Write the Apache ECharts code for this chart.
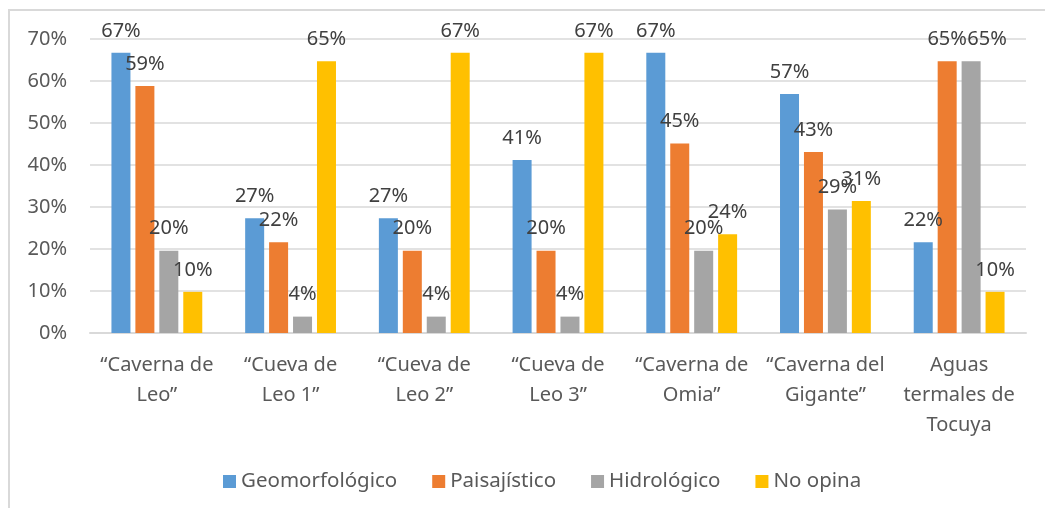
<!DOCTYPE html>
<html>
<head>
<meta charset="utf-8">
<title>Valoración de sitios</title>
<script src="https://cdn.jsdelivr.net/npm/echarts@6/dist/echarts.min.js"></script>
<style>
  html, body { margin: 0; padding: 0; background: #fff; }
  #chart { width: 1045px; height: 508px; }
</style>
</head>
<body>
<div id="chart"></div>
<script>
// sites on the x axis
let sites = ['“Caverna de\nLeo”', '“Cueva de\nLeo 1”', '“Cueva de\nLeo 2”', '“Cueva de\nLeo 3”',
    '“Caverna de\nOmia”', '“Caverna del\nGigante”', 'Aguas\ntermales de\nTocuya']

// share of answers per site
let geomorfologico = [0.667, 0.273, 0.273, 0.412, 0.667, 0.569, 0.216]
let paisajistico   = [0.588, 0.216, 0.196, 0.196, 0.451, 0.431, 0.647]
let hidrologico    = [0.196, 0.039, 0.039, 0.039, 0.196, 0.294, 0.647]
let noOpina        = [0.098, 0.647, 0.667, 0.667, 0.235, 0.314, 0.098]

let seriesNames = ['Geomorfológico', 'Paisajístico', 'Hidrológico', 'No opina']
let colors = ['#5B9BD5', '#ED7D31', '#A5A5A5', '#FFC000']

let yTicks = [0, 0.1, 0.2, 0.3, 0.4, 0.5, 0.6, 0.7]

let font = '"Noto Sans", "Open Sans", sans-serif'

let chart = echarts.init(document.getElementById('chart'))

function pct(v) {
    return Math.round(v * 100) + '%'
}

function makeSeries(name, values, idx) {
    return {
        name: name,
        type: 'bar',
        barWidth: 19,
        barGap: '26%',
        itemStyle: { color: colors[idx] },
        label: {
            show: true,
            position: 'top',
            distance: 12,
            color: '#404040',
            fontFamily: font,
            fontSize: 20,
            formatter: function(p) { return pct(p.value) }
        },
        data: values.map(function(v, i) {
            // the two 65% labels of the last site sit side by side in the original
            if (idx === 2 && i === 6) {
                return { value: v, label: { offset: [16, 0] } }
            }
            return v
        })
    }
}

let option = {
    animation: false,
    backgroundColor: '#fff',
    textStyle: { fontFamily: font },
    graphic: [{
        type: 'rect',
        shape: { x: 9, y: 10, width: 1100, height: 600 },
        style: { fill: 'none', stroke: '#d9d9d9', lineWidth: 2 },
        silent: true
    }],
    grid: { left: 90, right: 19, top: 39, bottom: 175 },
    legend: {
        left: 218,
        top: 466,
        icon: 'rect',
        itemWidth: 13,
        itemHeight: 13,
        itemGap: 35,
        textStyle: { color: '#595959', fontSize: 20.5, fontFamily: font },
        data: seriesNames
    },
    xAxis: {
        type: 'category',
        data: sites,
        axisLine: { lineStyle: { color: '#d9d9d9', width: 2 } },
        axisTick: { show: false },
        axisLabel: {
            interval: 0,
            margin: 17,
            color: '#595959',
            fontSize: 20,
            lineHeight: 30,
            fontFamily: font
        }
    },
    yAxis: {
        type: 'value',
        min: yTicks[0],
        max: yTicks[yTicks.length - 1],
        interval: 0.1,
        axisLine: { show: false },
        axisTick: { show: false },
        splitLine: { lineStyle: { color: '#d9d9d9', width: 1.5 } },
        axisLabel: {
            margin: 23,
            color: '#595959',
            fontSize: 20,
            fontFamily: font,
            formatter: function(v) { return pct(v) }
        }
    },
    series: [
        makeSeries(seriesNames[0], geomorfologico, 0),
        makeSeries(seriesNames[1], paisajistico, 1),
        makeSeries(seriesNames[2], hidrologico, 2),
        makeSeries(seriesNames[3], noOpina, 3)
    ]
}

chart.setOption(option)
</script>
</body>
</html>
